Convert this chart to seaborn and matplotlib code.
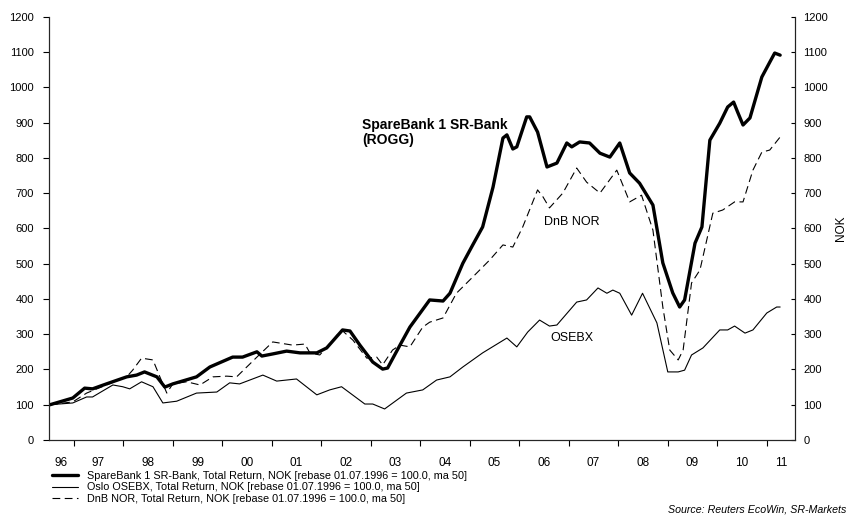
"""SpareBank 1 SR-Bank vs DnB NOR vs OSEBX, total return chart"""
import matplotlib
matplotlib.use("Agg")
import matplotlib.pyplot as plt
import numpy as np
import pandas as pd
import seaborn as sns

# values (decimal year, index level rebased to 100)
sr_years = [1996.52, 1996.98, 1997.22, 1997.38, 1997.66, 1998.07, 1998.27, 1998.43, 1998.68, 1998.84,
            1999.00, 1999.48, 1999.75, 2000.21, 2000.41, 2000.70, 2000.80, 2001.02, 2001.30, 2001.57,
            2001.91, 2002.11, 2002.43, 2002.58, 2002.78, 2003.04, 2003.24, 2003.34, 2003.59, 2003.79,
            2004.19, 2004.46, 2004.60, 2004.86, 2005.06, 2005.26, 2005.47, 2005.67, 2005.75, 2005.87,
            2005.95, 2006.15, 2006.21, 2006.37, 2006.56, 2006.76, 2006.96, 2007.06, 2007.22, 2007.42,
            2007.63, 2007.83, 2008.03, 2008.23, 2008.43, 2008.70, 2008.90, 2009.10, 2009.24, 2009.34,
            2009.55, 2009.69, 2009.85, 2010.05, 2010.21, 2010.33, 2010.41, 2010.52, 2010.66, 2010.90,
            2011.06, 2011.16, 2011.27]
sr_values = [100, 119, 147, 145, 159, 179, 184, 193, 179, 150,
             159, 179, 207, 235, 235, 250, 238, 244, 252, 247,
             247, 261, 312, 309, 269, 221, 201, 204, 269, 320,
             397, 394, 416, 501, 553, 604, 717, 856, 865, 825,
             831, 916, 916, 873, 774, 785, 842, 831, 845, 842,
             813, 802, 842, 757, 728, 666, 502, 417, 377, 397,
             558, 604, 850, 898, 944, 958, 930, 893, 913, 1029,
             1071, 1097, 1091]

osebx_years = [1996.52, 1996.98, 1997.26, 1997.38, 1997.79, 1997.99, 1998.13, 1998.37, 1998.60, 1998.80,
               1999.08, 1999.48, 1999.89, 2000.15, 2000.35, 2000.82, 2001.10, 2001.50, 2001.91, 2002.17,
               2002.41, 2002.88, 2003.04, 2003.28, 2003.72, 2004.05, 2004.33, 2004.60, 2004.86, 2005.26,
               2005.75, 2005.95, 2006.17, 2006.41, 2006.61, 2006.76, 2007.16, 2007.36, 2007.59, 2007.77,
               2007.89, 2008.03, 2008.27, 2008.49, 2008.78, 2009.00, 2009.21, 2009.34, 2009.48, 2009.71,
               2010.05, 2010.21, 2010.35, 2010.56, 2010.72, 2011.00, 2011.20, 2011.27]
osebx_values = [100, 105, 122, 122, 156, 151, 145, 165, 151, 105,
                110, 133, 136, 162, 159, 184, 167, 173, 128, 142,
                151, 102, 102, 88, 133, 142, 170, 179, 207, 247,
                289, 264, 306, 340, 323, 326, 391, 397, 431, 416,
                425, 416, 354, 416, 332, 193, 193, 198, 241, 261,
                312, 312, 323, 303, 312, 360, 377, 377]

dnb_years = [1996.52, 1996.98, 1997.26, 1997.66, 1998.07, 1998.19, 1998.37, 1998.60, 1998.74, 1998.88,
             1999.00, 1999.28, 1999.55, 1999.81, 2000.09, 2000.29, 2000.70, 2001.02, 2001.42, 2001.67,
             2001.77, 2001.97, 2002.41, 2002.64, 2002.92, 2003.12, 2003.24, 2003.44, 2003.59, 2003.79,
             2004.05, 2004.19, 2004.46, 2004.73, 2005.06, 2005.40, 2005.67, 2005.87, 2006.07, 2006.37,
             2006.48, 2006.61, 2006.88, 2007.16, 2007.36, 2007.63, 2007.97, 2008.23, 2008.47, 2008.70,
             2008.90, 2009.04, 2009.21, 2009.31, 2009.48, 2009.65, 2009.91, 2010.11, 2010.35, 2010.52,
             2010.72, 2010.90, 2011.06, 2011.27]
dnb_values = [100, 108, 133, 156, 179, 198, 232, 227, 179, 133,
              159, 165, 156, 179, 181, 179, 235, 278, 269, 272,
              247, 241, 312, 283, 232, 235, 213, 255, 269, 264,
              320, 334, 346, 416, 462, 510, 553, 547, 604, 709,
              689, 658, 700, 771, 731, 700, 765, 675, 694, 595,
              377, 255, 227, 255, 445, 482, 643, 652, 675, 675,
              765, 816, 822, 859]

legend_labels = [
    "SpareBank 1 SR-Bank, Total Return, NOK [rebase 01.07.1996 = 100.0, ma 50]",
    "Oslo OSEBX, Total Return, NOK [rebase 01.07.1996 = 100.0, ma 50]",
    "DnB NOR, Total Return, NOK [rebase 01.07.1996 = 100.0, ma 50]",
]
year_labels = ["96", "97", "98", "99", "00", "01", "02", "03", "04", "05",
               "06", "07", "08", "09", "10", "11"]

sns.set_style("ticks")
plt.rcParams["font.family"] = ["Liberation Sans", "DejaVu Sans"]
plt.rcParams.update({"text.color": "black", "axes.labelcolor": "black",
                     "xtick.color": "black", "ytick.color": "black"})

fig = plt.figure(figsize=(8.48, 5.18), dpi=100)
ax = fig.add_axes([49 / 848, 1 - 440 / 518, (795 - 49) / 848, (440 - 16.7) / 518])

sr = pd.DataFrame({"year": sr_years, "value": sr_values})
osebx = pd.DataFrame({"year": osebx_years, "value": osebx_values})
dnb = pd.DataFrame({"year": dnb_years, "value": dnb_values})

sns.lineplot(data=sr, x="year", y="value", ax=ax, color="black", linewidth=2.4)
sns.lineplot(data=osebx, x="year", y="value", ax=ax, color="black", linewidth=0.8)
sns.lineplot(data=dnb, x="year", y="value", ax=ax, color="black", linewidth=0.8,
             linestyle=(0, (7, 4)))

x_lo, x_hi = 1996.5, 2011.57
ax.set_xlim(x_lo, x_hi)
ax.set_ylim(0, 1200)
ax.set_xlabel("")
ax.set_ylabel("")

# year boundaries get ticks, labels sit in the middle of each year
ax.set_xticks(np.arange(1997, 2012))
ax.set_xticklabels([])
mids = [max(x_lo, y) + (min(x_hi, y + 1) - max(x_lo, y)) / 2 for y in range(1996, 2012)]
ax.set_xticks(mids, minor=True)
ax.set_xticklabels(year_labels, minor=True, fontsize=8.5)
ax.tick_params(axis="x", which="minor", length=0, pad=12)
ax.tick_params(axis="x", which="major", length=4, width=0.8, direction="out")

ax.set_yticks(np.arange(0, 1201, 100))
ax.tick_params(axis="y", labelsize=8, length=4, width=0.8, direction="out", pad=7)
ax.spines["top"].set_visible(False)
for s in ["left", "bottom"]:
    ax.spines[s].set_linewidth(0.8)
    ax.spines[s].set_color("#222222")

ax2 = ax.twinx()
ax2.set_ylim(0, 1200)
ax2.set_yticks(np.arange(0, 1201, 100))
ax2.tick_params(axis="y", labelsize=8, length=3, width=0.8, direction="in", pad=6)
ax2.spines["top"].set_visible(False)
ax2.spines["right"].set_linewidth(0.8)
ax2.spines["right"].set_color("#222222")
ax2.set_ylabel("NOK", fontsize=8.5, labelpad=5)

# annotations
ax.text(2002.82, 872, "SpareBank 1 SR-Bank\n(ROGG)", fontsize=10, fontweight="bold",
        ha="left", va="center", linespacing=1.05)
ax.text(2007.06, 618, "DnB NOR", fontsize=9, ha="center", va="center")
ax.text(2007.06, 289, "OSEBX", fontsize=9, ha="center", va="center")

fig.legend(ax.lines[:3], legend_labels, loc="upper left",
           bbox_to_anchor=(52 / 848, 1 - 471 / 518), frameon=False, fontsize=7.8,
           borderpad=0, borderaxespad=0, handlelength=2.4, handletextpad=0.8,
           labelspacing=0.12)

fig.text(846 / 848, 1 - 510 / 518, "Source: Reuters EcoWin, SR-Markets", fontsize=7.7,
         style="italic", ha="right", va="center")

fig.savefig("out.png", dpi=100)
